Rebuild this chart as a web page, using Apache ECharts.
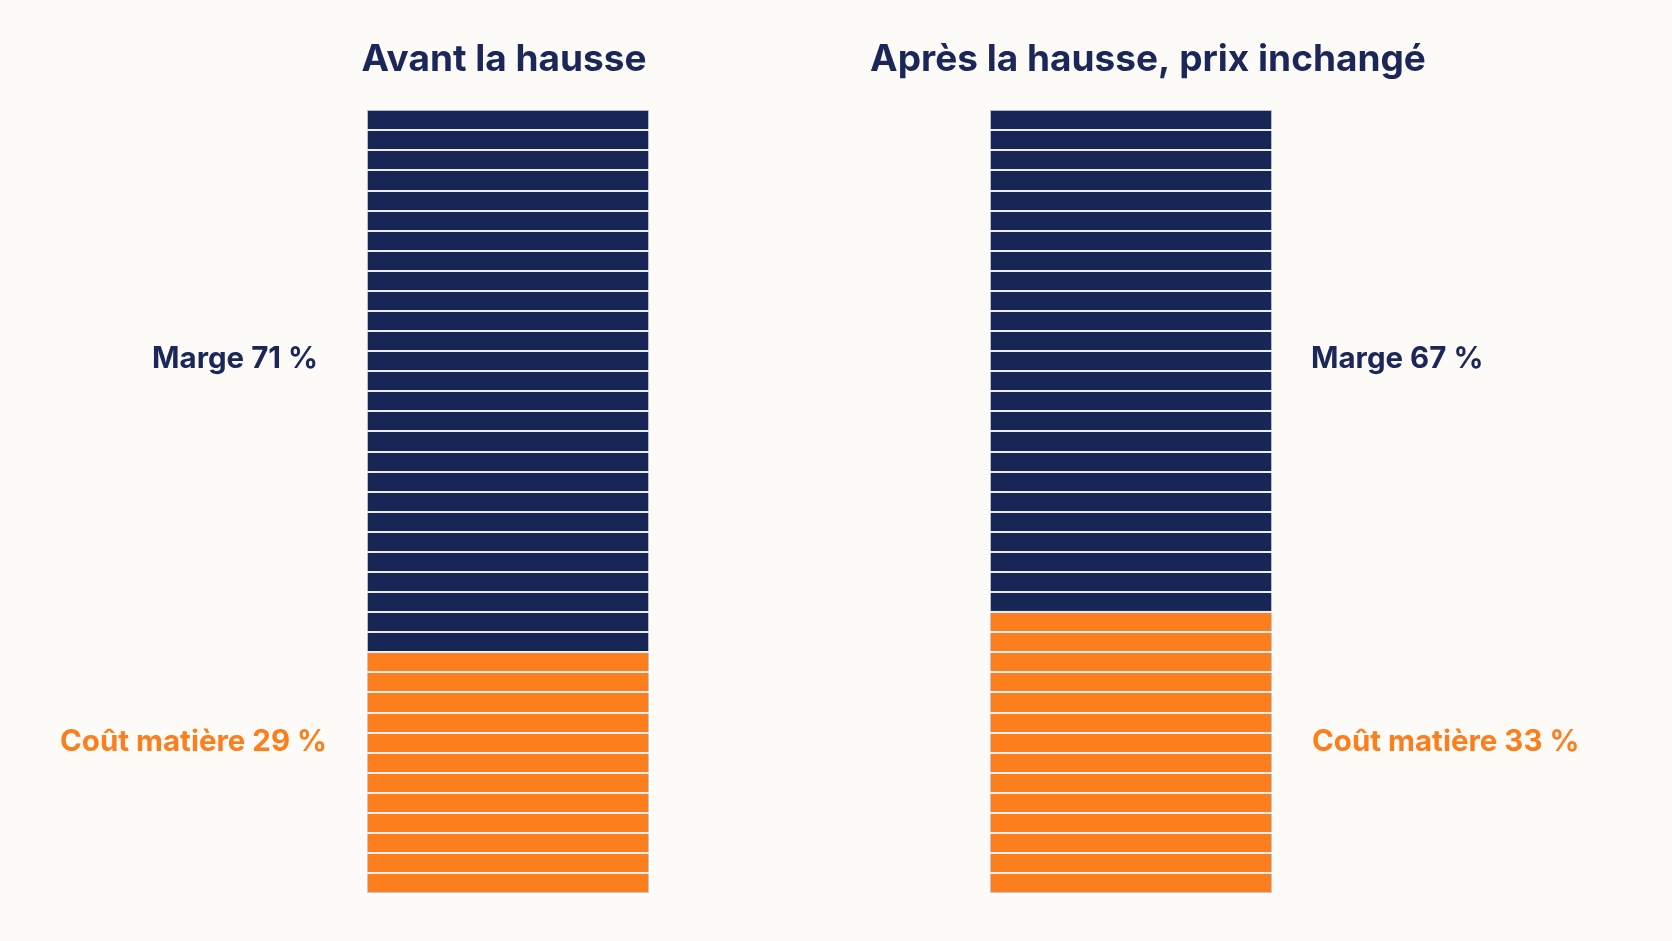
<!DOCTYPE html>
<html lang="fr">
<head>
<meta charset="utf-8">
<title>Marge et coût matière</title>
<script src="https://cdn.jsdelivr.net/npm/echarts@6/dist/echarts.min.js"></script>
<style>
  html, body { margin: 0; padding: 0; background: #fcfbf7; }
  #chart { width: 1672px; height: 941px; }
</style>
</head>
<body>
<div id="chart"></div>
<script>
  // Data
  const categories = ['Avant la hausse', 'Après la hausse, prix inchangé']
  const margeUnits = [27, 25]     // navy blocks per bar
  const coutUnits = [12, 14]      // orange blocks per bar
  const margePct = [71, 67]
  const coutPct = [29, 33]
  const totalUnits = 39

  const NAVY = '#172657'
  const ORANGE = '#fd7e1c'
  const TITLE = '#1b2759'
  const FONT = 'Inter, "Noto Sans", sans-serif'

  const barLefts = [367, 990]
  const barWidth = 282

  const chart = echarts.init(document.getElementById('chart'), null, { renderer: 'canvas' })

  const grids = barLefts.map(left => ({ left, width: barWidth, top: 110, height: 783 }))

  const xAxes = categories.map((c, i) => ({
    type: 'category', gridIndex: i, data: [c],
    axisLine: { show: false }, axisTick: { show: false }, axisLabel: { show: false },
  }))

  // split lines on top of the bars draw the block separators
  const yAxes = categories.map((c, i) => ({
    type: 'value', gridIndex: i, min: 0, max: totalUnits, interval: 1, z: 10,
    axisLine: { show: false }, axisTick: { show: false }, axisLabel: { show: false },
    splitLine: {
      show: true, showMinLine: false, showMaxLine: false,
      lineStyle: { color: '#eceef4', width: 2 },
    },
  }))

  const series = []
  categories.forEach((c, i) => {
    series.push({
      type: 'bar', xAxisIndex: i, yAxisIndex: i, stack: 'bar' + i,
      barWidth: '100%', data: [coutUnits[i]],
      itemStyle: { color: ORANGE, borderColor: '#c3c6d0', borderWidth: 1 },
      silent: true,
    })
    series.push({
      type: 'bar', xAxisIndex: i, yAxisIndex: i, stack: 'bar' + i,
      barWidth: '100%', data: [margeUnits[i]],
      itemStyle: { color: NAVY, borderColor: '#b9bdc9', borderWidth: 1 },
      silent: true,
    })
  })

  const labelStyle = (text, color, x, y, align) => ({
    type: 'text', x, y, silent: true,
    style: {
      text, fill: color, font: `700 29.5px ${FONT}`,
      align, verticalAlign: 'middle',
    },
  })

  const titleStyle = { color: TITLE, fontFamily: FONT, fontWeight: 700, fontSize: 37 }

  chart.setOption({
    backgroundColor: '#fcfbf7',
    animation: false,
    title: [
      { text: categories[0], left: 499, top: 36, textAlign: 'center', textStyle: titleStyle },
      { text: categories[1], left: 1143, top: 36, textAlign: 'center', textStyle: titleStyle },
    ],
    grid: grids,
    xAxis: xAxes,
    yAxis: yAxes,
    series,
    graphic: [
      labelStyle(`Marge ${margePct[0]} %`, TITLE, 318, 359, 'right'),
      labelStyle(`Coût matière ${coutPct[0]} %`, ORANGE, 327, 742, 'right'),
      labelStyle(`Marge ${margePct[1]} %`, TITLE, 1311, 359, 'left'),
      labelStyle(`Coût matière ${coutPct[1]} %`, ORANGE, 1312, 742, 'left'),
    ],
  })
</script>
</body>
</html>
